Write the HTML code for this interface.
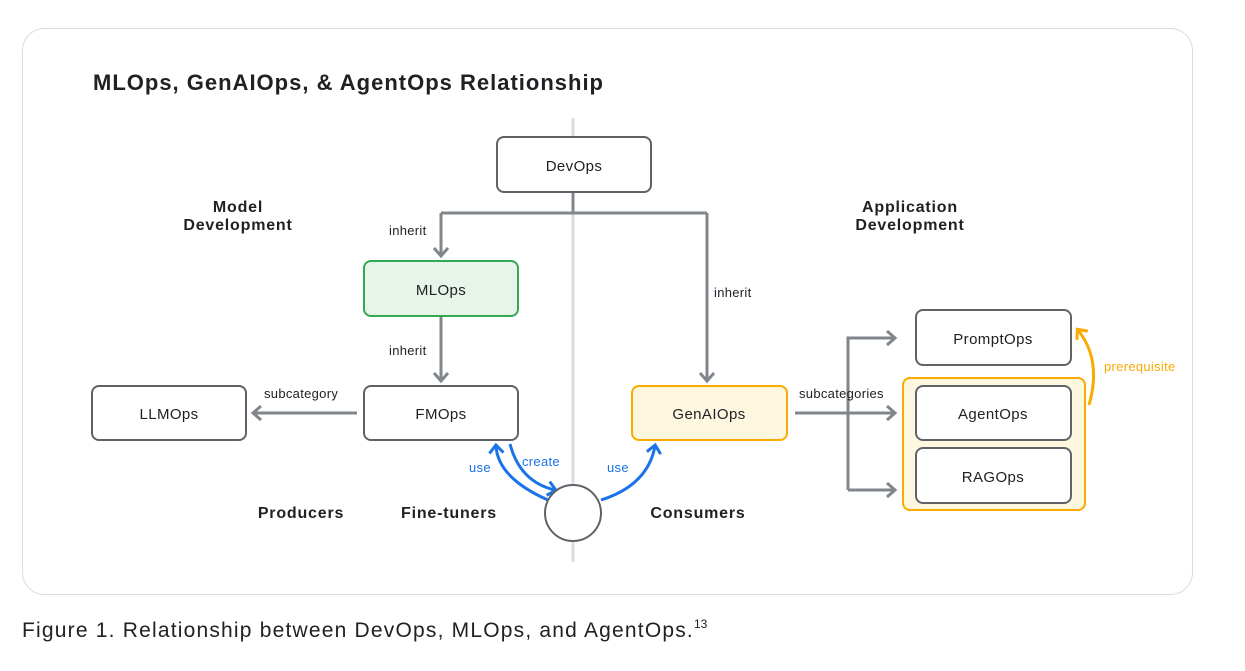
<!DOCTYPE html>
<html><head><style>
body{margin:0;background:#fff;width:1245px;height:666px;overflow:hidden;font-family:"Liberation Sans",sans-serif}
</style></head><body>
<svg width="1245" height="666" xmlns="http://www.w3.org/2000/svg" font-family="Liberation Sans, sans-serif">
<defs>
<marker id="g" markerWidth="14" markerHeight="16" refX="9" refY="8" orient="auto" markerUnits="userSpaceOnUse"><path d="M2,1 L10,8 L2,15" fill="none" stroke="#80868b" stroke-width="3"/></marker>
<marker id="b" markerWidth="14" markerHeight="16" refX="9" refY="8" orient="auto" markerUnits="userSpaceOnUse"><path d="M2,1 L10,8 L2,15" fill="none" stroke="#1a73e8" stroke-width="3"/></marker>
<marker id="o" markerWidth="14" markerHeight="16" refX="9" refY="8" orient="auto" markerUnits="userSpaceOnUse"><path d="M2,1 L10,8 L2,15" fill="none" stroke="#f9ab00" stroke-width="3"/></marker>
</defs>
<rect x="22.5" y="28.5" width="1170" height="566" rx="22" fill="#fff" stroke="#dadce0"/>
<text x="93" y="90" font-size="22" font-weight="bold" fill="#202124" letter-spacing="1">MLOps, GenAIOps, &amp; AgentOps Relationship</text>
<line x1="573" y1="118" x2="573" y2="562" stroke="#dadce0" stroke-width="3"/>
<g fill="none" stroke="#80868b" stroke-width="3">
<path d="M573,192 V213 M441,213 H707"/>
<path d="M441,213 V255" marker-end="url(#g)"/>
<path d="M707,213 V380" marker-end="url(#g)"/>
<path d="M441,316 V380" marker-end="url(#g)"/>
<path d="M357,413 H254" marker-end="url(#g)"/>
<path d="M795,413 H894" marker-end="url(#g)"/>
<path d="M848,490 V338 H894" marker-end="url(#g)"/>
<path d="M848,490 H894" marker-end="url(#g)"/>
</g>
<g fill="none" stroke-width="3">
<path d="M548,500 Q498,478 496,446" stroke="#1a73e8" marker-end="url(#b)"/>
<path d="M510,444 Q520,482 555,490" stroke="#1a73e8" marker-end="url(#b)"/>
<path d="M601,500 Q648,485 655,446" stroke="#1a73e8" marker-end="url(#b)"/>
<path d="M1089,405 Q1102,360 1078,330" stroke="#f9ab00" marker-end="url(#o)"/>
</g>
<g font-size="13" fill="#202124" letter-spacing="0.3">
<text x="389" y="235">inherit</text>
<text x="389" y="355">inherit</text>
<text x="714" y="297">inherit</text>
<text x="264" y="398">subcategory</text>
<text x="799" y="398">subcategories</text>
</g>
<g font-size="13" fill="#1a73e8" letter-spacing="0.3"><text x="469" y="472">use</text><text x="522" y="466">create</text><text x="607" y="472">use</text></g>
<text x="1104" y="371" font-size="13" fill="#f9ab00" letter-spacing="0.3">prerequisite</text>
<g font-size="16" font-weight="bold" fill="#202124" text-anchor="middle" letter-spacing="0.8">
<text x="238" y="212">Model</text><text x="238" y="230">Development</text>
<text x="910" y="212">Application</text><text x="910" y="230">Development</text>
<text x="301" y="518">Producers</text><text x="449" y="518">Fine-tuners</text><text x="698" y="518">Consumers</text>
</g>
<rect x="903" y="378" width="182" height="132" rx="7" fill="#fef7e0" stroke="#f9ab00" stroke-width="2"/>
<g stroke="#5f6368" stroke-width="2" fill="#fff">
<rect x="497" y="137" width="154" height="55" rx="7"/>
<rect x="364" y="261" width="154" height="55" rx="7" fill="#e6f4ea" stroke="#34a853"/>
<rect x="364" y="386" width="154" height="54" rx="7"/>
<rect x="92" y="386" width="154" height="54" rx="7"/>
<rect x="632" y="386" width="155" height="54" rx="7" fill="#fef7e0" stroke="#f9ab00"/>
<rect x="916" y="310" width="155" height="55" rx="7"/>
<rect x="916" y="386" width="155" height="54" rx="7"/>
<rect x="916" y="448" width="155" height="55" rx="7"/>
<circle cx="573" cy="513" r="28"/>
</g>
<g font-size="15" fill="#202124" text-anchor="middle" letter-spacing="0.4">
<text x="574" y="171">DevOps</text><text x="441" y="295">MLOps</text><text x="441" y="419">FMOps</text>
<text x="169" y="419">LLMOps</text><text x="709" y="419">GenAIOps</text><text x="993" y="344">PromptOps</text>
<text x="993" y="419">AgentOps</text><text x="993" y="482">RAGOps</text>
</g>
<text x="22" y="637" font-size="21" fill="#202124" letter-spacing="1.2">Figure 1. Relationship between DevOps, MLOps, and AgentOps.<tspan font-size="12" dy="-9" letter-spacing="0">13</tspan></text>
</svg>
</body></html>
